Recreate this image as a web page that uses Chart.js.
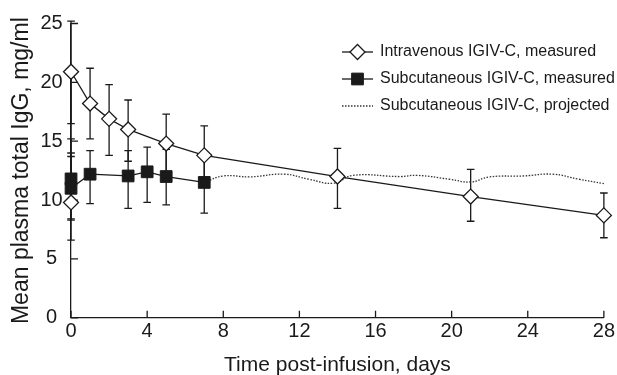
<!DOCTYPE html>
<html>
<head>
<meta charset="utf-8">
<script src="https://cdn.jsdelivr.net/npm/chart.js@4.4.1/dist/chart.umd.min.js"></script>
<style>
  html, body { margin: 0; padding: 0; background: #fff; }
  #wrap { width: 617px; height: 375px; }
</style>
</head>
<body>
<div id="wrap"><canvas id="igg"></canvas></div>
<script>
// IgG levels after infusion

var ivDays = [0, 0, 1, 2, 3, 5, 7, 14, 21, 28];
var ivMean = [9.8, 20.9, 18.2, 16.9, 16.0, 14.8, 13.8, 12.0, 10.3, 8.7];
var ivLow = [6.6, 16.5, 15.2, 13.8, 13.3, 12.3, 11.3, 9.3, 8.2, 6.8];
var ivHigh = [14.0, 25.2, 21.2, 19.8, 18.5, 17.3, 16.3, 14.4, 12.6, 10.6];

var scDays = [0, 0, 1, 3, 4, 5, 7];
var scMean = [11.8, 11.0, 12.2, 12.05, 12.4, 12.0, 11.5];
var scLow = [8.4, 8.3, 9.7, 9.3, 9.8, 9.6, 8.9];
var scHigh = [15.2, 13.7, 14.2, 14.2, 14.5, 14.3, 14.1];

var projDays = [7, 8, 9.4, 11.2, 12.5, 13.8, 14.8, 17.3, 18.2, 19.9, 21, 22, 23.8, 25.3, 26.7, 28];
var projMean = [11.5, 12.05, 11.97, 12.2, 11.77, 11.43, 12.1, 12.0, 12.1, 11.77, 11.54, 11.97, 12.05, 12.2, 11.77, 11.4];

var seriesLabels = ["Intravenous IGIV-C, measured", "Subcutaneous IGIV-C, measured", "Subcutaneous IGIV-C, projected"];
var xTicks = [0, 4, 8, 12, 16, 20, 24, 28];
var yTicks = [0, 5, 10, 15, 20, 25];

var FONT = "'Liberation Sans', Arial, Helvetica, sans-serif";
var INK = "#1a1a1a";

function pts(xs, ys, lo, hi) {
	return xs.map(function (x, i) {
		var p = { x: x, y: ys[i] };
		if (lo) { p.lo = lo[i]; p.hi = hi[i]; }
		return p;
	});
}

Chart.defaults.font.family = FONT;
Chart.defaults.color = INK;

// tick marks pointing into the plot
var innerTicks = {
	id: "innerTicks",
	beforeDatasetsDraw: function (chart) {
		var ctx = chart.ctx;
		var area = chart.chartArea;
		var xs = chart.scales.x, ys = chart.scales.y;
		ctx.save();
		ctx.strokeStyle = INK;
		ctx.lineWidth = 1.3;
		ctx.beginPath();
		xs.ticks.forEach(function (t) {
			var px = xs.getPixelForValue(t.value);
			ctx.moveTo(px, area.bottom); ctx.lineTo(px, area.bottom - 7);
		});
		ys.ticks.forEach(function (t) {
			var py = ys.getPixelForValue(t.value);
			ctx.moveTo(area.left, py); ctx.lineTo(area.left + 7, py);
		});
		ctx.stroke();
		ctx.restore();
	}
};

// error bars, drawn before the markers
var errorBars = {
	id: "errorBars",
	beforeDatasetsDraw: function (chart) {
		var ctx = chart.ctx;
		var xs = chart.scales.x, ys = chart.scales.y;
		ctx.save();
		ctx.strokeStyle = INK;
		ctx.lineWidth = 1.3;
		chart.data.datasets.forEach(function (ds) {
			ds.data.forEach(function (p) {
				if (p.lo === undefined) return;
				var px = xs.getPixelForValue(p.x);
				var top = ys.getPixelForValue(p.hi);
				var bot = ys.getPixelForValue(p.lo);
				ctx.beginPath();
				ctx.moveTo(px, top); ctx.lineTo(px, bot);
				ctx.moveTo(px - 3.8, top); ctx.lineTo(px + 3.8, top);
				ctx.moveTo(px - 3.8, bot); ctx.lineTo(px + 3.8, bot);
				ctx.stroke();
			});
		});
		ctx.restore();
	}
};

// legend inside the plot, top right
var insideLegend = {
	id: "insideLegend",
	afterDraw: function (chart) {
		var ctx = chart.ctx;
		var x0 = 342, x1 = 373, tx = 380;
		var rows = [52, 79, 106];
		ctx.save();
		ctx.font = "16px " + FONT;
		ctx.textBaseline = "middle";
		chart.data.datasets.forEach(function (ds, i) {
			var y = rows[i];
			ctx.strokeStyle = ds.borderColor;
			ctx.lineWidth = ds.borderWidth;
			ctx.setLineDash(ds.borderDash || []);
			ctx.beginPath();
			ctx.moveTo(x0, y); ctx.lineTo(x1, y);
			ctx.stroke();
			ctx.setLineDash([]);
			if (ds.pointRadius > 0) {
				ctx.fillStyle = ds.pointBackgroundColor;
				ctx.strokeStyle = ds.pointBorderColor;
				ctx.lineWidth = ds.pointBorderWidth;
				Chart.helpers.drawPoint(ctx, {
					pointStyle: ds.pointStyle,
					radius: ds.pointRadius,
					borderWidth: ds.pointBorderWidth,
					rotation: 0
				}, (x0 + x1) / 2, y);
			}
			ctx.fillStyle = INK;
			ctx.fillText(ds.label, tx, y);
		});
		ctx.restore();
	}
};

new Chart(document.getElementById("igg"), {
	type: "line",
	plugins: [innerTicks, errorBars, insideLegend],
	data: {
		datasets: [
			{
				label: seriesLabels[0],
				data: pts(ivDays, ivMean, ivLow, ivHigh),
				borderColor: INK,
				borderWidth: 1.3,
				pointStyle: "rectRot",
				pointRadius: 7.5,
				pointBackgroundColor: "#fff",
				pointBorderColor: INK,
				pointBorderWidth: 1.3,
				tension: 0,
				clip: false,
				order: 1,
			},
			{
				label: seriesLabels[1],
				data: pts(scDays, scMean, scLow, scHigh),
				borderColor: INK,
				borderWidth: 1.3,
				pointStyle: "rect",
				pointRadius: 8.3,
				pointBackgroundColor: INK,
				pointBorderColor: INK,
				pointBorderWidth: 1,
				tension: 0,
				clip: false,
				order: 2,
			},
			{
				label: seriesLabels[2],
				data: pts(projDays, projMean),
				borderColor: "#333",
				borderWidth: 1.3,
				borderDash: [1.5, 1.5],
				pointRadius: 0,
				tension: 0.45,
				clip: false,
				order: 3,
			},
		],
	},
	options: {
		responsive: true,
		maintainAspectRatio: false,
		animation: false,
		events: [],
		layout: { padding: { left: 0, right: 13, top: 23.5, bottom: 0 } },
		plugins: {
			legend: { display: false },
			tooltip: { enabled: false },
		},
		scales: {
			x: {
				type: "linear",
				min: 0,
				max: 28,
				afterBuildTicks: function (s) { s.ticks = xTicks.map(function (v) { return { value: v }; }); },
				grid: { display: false, drawTicks: false },
				border: { color: INK, width: 1.3 },
				ticks: { font: { size: 20 }, padding: 2, maxRotation: 0 },
				title: { display: true, text: "Time post-infusion, days", font: { size: 21 }, padding: { top: 7, bottom: -3 } },
			},
			y: {
				min: 0,
				max: 25,
				afterBuildTicks: function (s) { s.ticks = yTicks.map(function (v) { return { value: v }; }); },
				grid: { display: false, drawTicks: false },
				border: { color: INK, width: 1.3 },
				ticks: { font: { size: 20 }, padding: 8.3, crossAlign: "center" },
				title: { display: true, text: "Mean plasma total IgG, mg/ml", font: { size: 23 }, padding: { top: 8, bottom: -3.4 } },
			},
		},
	},
});
</script>
</body>
</html>
